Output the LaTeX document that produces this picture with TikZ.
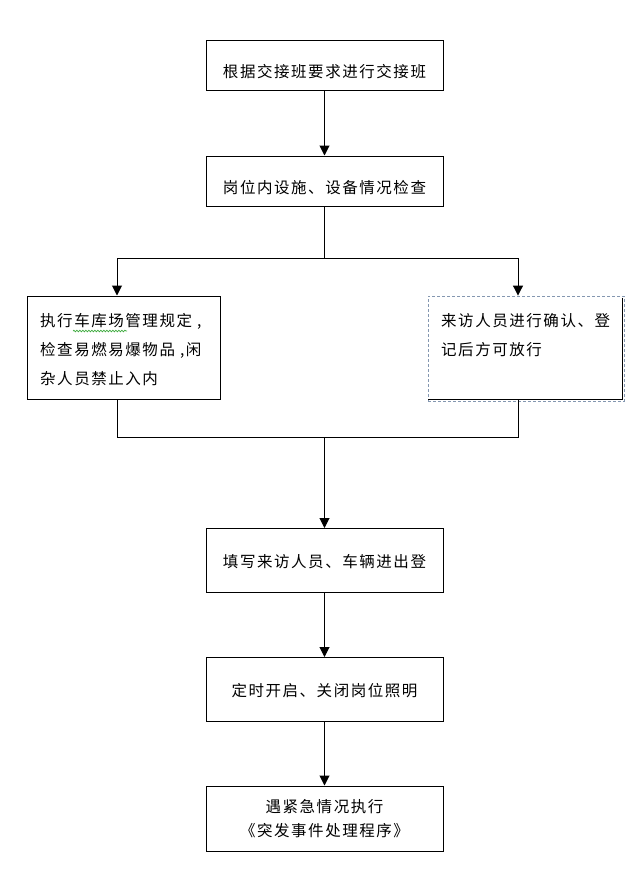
\documentclass[tikz,border=0pt]{standalone}
\usepackage{fontspec}
\newfontfamily\cjk[LetterSpace=10]{Noto Sans CJK SC}
\usetikzlibrary{arrows.meta,decorations.pathmorphing}
\definecolor{dashblue}{RGB}{132,151,176}
\definecolor{squig}{RGB}{60,170,60}
\tikzset{
  box/.style={draw=black,line width=1pt,rectangle,inner sep=0pt},
  dbox/.style={draw=dashblue,line width=0.9pt,dash pattern=on 3pt off 2pt,rectangle,inner sep=0pt},
  txt/.style={inner sep=0pt,font=\cjk\fontsize{15.5}{18}\selectfont},
  conn/.style={line width=1pt,draw=black},
  arr/.style={conn,-{Triangle[width=10pt,length=10pt]}},
}
\begin{document}
\begin{tikzpicture}[x=1pt,y=-1pt]
\useasboundingbox (0,0) rectangle (644,876);
% boxes
\node[box,minimum width=237pt,minimum height=50pt] (b1) at (324.5,65) {};
\node[box,minimum width=237pt,minimum height=50pt] (b2) at (324.5,181) {};
\node[box,minimum width=193pt,minimum height=103pt] (bl) at (124,347.5) {};
\node[dbox,minimum width=196pt,minimum height=105pt] (br) at (526,348.5) {};
\coordinate (brNE) at (622,297.5);
\coordinate (brSE) at (622,399);
\coordinate (brSW) at (428,399);
\draw[conn] (brNE) -- (brSE) -- (brSW);
\node[box,minimum width=237pt,minimum height=64pt] (b3) at (324.5,560.5) {};
\node[box,minimum width=237pt,minimum height=64pt] (b4) at (324.5,689.5) {};
\node[box,minimum width=237pt,minimum height=65pt] (b5) at (324.5,818.5) {};
% texts
\node[txt,anchor=base] (t1) at (324.5,77) {根据交接班要求进行交接班};
\node[txt,anchor=base] (t2) at (324.5,193) {岗位内设施、设备情况检查};
\node[txt,anchor=base west] (tl1) at (40,326) {执行车库场管理规定 ,};
\node[txt,anchor=base west] (tl2) at (40,355) {检查易燃易爆物品 ,闲};
\node[txt,anchor=base west] (tl3) at (40,384) {杂人员禁止入内};
\node[txt,anchor=base west] (tr1) at (441,326) {来访人员进行确认、登};
\node[txt,anchor=base west] (tr2) at (441,355) {记后方可放行};
\node[txt,anchor=base] (t3) at (324.5,567) {填写来访人员、车辆进出登};
\node[txt,anchor=base] (t4) at (324.5,696) {定时开启、关闭岗位照明};
\node[txt,anchor=base] (t5a) at (324.5,812) {遇紧急情况执行};
\node[txt,anchor=base] (t5b) at (324.5,836) {《突发事件处理程序》};
% squiggle
\coordinate (sq1) at (73,331);
\coordinate (sq2) at (127,331);
\draw[squig,line width=0.7pt,decorate,decoration={snake,amplitude=0.8pt,segment length=3pt}] (sq1) -- (sq2);
% connectors
\draw[arr] (b1.south) -- (b2.north);
\coordinate (split) at (324.5,258);
\coordinate (sl) at (117,258);
\coordinate (sr) at (518,258);
\draw[conn] (b2.south) -- (split);
\draw[conn] (sl) -- (sr);
\draw[arr] (sl) -- (sl |- bl.north);
\draw[arr] (sr) -- (sr |- br.north);
\coordinate (jl) at (117,437.5);
\coordinate (jr) at (518,437.5);
\coordinate (jc) at (324.5,437.5);
\draw[conn] (bl.south -| jl) -- (jl) -- (jr) -- (brSW -| jr);
\draw[arr] (jc) -- (b3.north);
\draw[arr] (b3.south) -- (b4.north);
\draw[arr] (b4.south) -- (b5.north);
\end{tikzpicture}
\end{document}
